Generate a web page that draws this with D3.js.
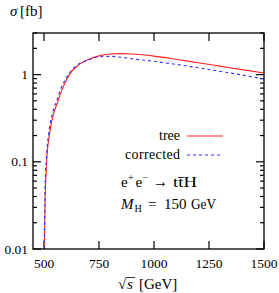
<!DOCTYPE html>
<meta charset="UTF-8">
<style>
body { margin: 0; background: #fff; }
text { font-family: "Liberation Serif", "DejaVu Serif", serif; fill: #000; }
.tick-label { font-size: 13.5px; }
</style>
<body>
<script src="https://d3js.org/d3.v7.min.js"></script>
<script>
// sqrt(s) in GeV
var treeEnergy = [502, 505, 510, 515, 520, 530, 540, 560, 580, 600, 625, 650, 700, 750, 800, 850, 900, 1000, 1100, 1200, 1300, 1400, 1500];
var treeSigma  = [0.01, 0.035, 0.08, 0.13, 0.17, 0.25, 0.33, 0.47, 0.65, 0.85, 1.08, 1.25, 1.48, 1.64, 1.72, 1.74, 1.72, 1.63, 1.5, 1.37, 1.25, 1.14, 1.045];
var corrEnergy = [501, 505, 510, 520, 530, 540, 560, 580, 600, 625, 650, 700, 750, 800, 850, 900, 1000, 1100, 1200, 1300, 1400, 1500];
var corrSigma  = [0.01, 0.05, 0.1, 0.2, 0.29, 0.37, 0.52, 0.72, 0.9, 1.12, 1.28, 1.47, 1.6, 1.62, 1.58, 1.52, 1.42, 1.31, 1.2, 1.09, 0.99, 0.89];
var xTicks = [500, 750, 1000, 1250, 1500];
var yTicks = [0.01, 0.1, 1];
var yLabels = ["0.01", "0.1", "1"];

var W = 279, H = 293;
var margin = {top: 33, right: 15, bottom: 44, left: 33};

var svg = d3.select("body").append("svg")
    .attr("width", W)
    .attr("height", H);

var x = d3.scaleLinear().domain([450, 1500]).range([margin.left, W - margin.right]);
var y = d3.scaleLog().domain([0.01, 3]).range([H - margin.bottom, margin.top]);

// minor ticks on the log axis
var minor = [];
[0.01, 0.1, 1].forEach(function(d) {
  for (var k = 2; k <= 9; k++) if (d * k <= 3) minor.push(d * k);
});

var axes = svg.append("g");
var x0 = x.range()[0], x1 = x.range()[1], y0 = y.range()[0], y1 = y.range()[1];

// x ticks bottom + top
xTicks.forEach(function(v) {
  axes.append("line").attr("x1", x(v)).attr("x2", x(v)).attr("y1", y0).attr("y2", y0 - 8)
      .attr("stroke", "#000").attr("stroke-width", 1.2);
  axes.append("line").attr("x1", x(v)).attr("x2", x(v)).attr("y1", y1).attr("y2", y1 + 8)
      .attr("stroke", "#000").attr("stroke-width", 1.2);
  axes.append("text").attr("class", "tick-label").attr("x", x(v)).attr("y", y0 + 19)
      .attr("text-anchor", "middle").text(v);
});

// y ticks left + right
yTicks.forEach(function(v, i) {
  [[x0, 1], [x1, -1]].forEach(function(s) {
    axes.append("line").attr("x1", s[0]).attr("x2", s[0] + s[1] * 8).attr("y1", y(v)).attr("y2", y(v))
        .attr("stroke", "#000").attr("stroke-width", 1.2);
  });
  axes.append("text").attr("class", "tick-label").attr("x", x0 - 5).attr("y", y(v) + 4.5)
      .attr("text-anchor", "end").text(yLabels[i]);
});
minor.forEach(function(v) {
  [[x0, 1], [x1, -1]].forEach(function(s) {
    axes.append("line").attr("x1", s[0]).attr("x2", s[0] + s[1] * 4).attr("y1", y(v)).attr("y2", y(v))
        .attr("stroke", "#000").attr("stroke-width", 1.2);
  });
});

var line = d3.line()
    .x(function(d) { return x(d[0]); })
    .y(function(d) { return y(d[1]); })
    .curve(d3.curveMonotoneX);

var plot = svg.append("g");
plot.append("defs").append("clipPath").attr("id", "clip")
  .append("rect").attr("x", x0).attr("y", y1).attr("width", x1 - x0).attr("height", y0 - y1);

plot.append("path")
    .datum(treeEnergy.map(function(e, i) { return [e, treeSigma[i]]; }))
    .attr("clip-path", "url(#clip)")
    .attr("fill", "none").attr("stroke", "#ff2020").attr("stroke-width", 1.1)
    .attr("d", line);
plot.append("path")
    .datum(corrEnergy.map(function(e, i) { return [e, corrSigma[i]]; }))
    .attr("clip-path", "url(#clip)")
    .attr("fill", "none").attr("stroke", "#3030ff").attr("stroke-width", 1.1)
    .attr("stroke-dasharray", "3,3")
    .attr("d", line);

// frame
svg.append("rect").attr("x", x0).attr("y", y1).attr("width", x1 - x0).attr("height", y0 - y1)
    .attr("fill", "none").attr("stroke", "#000").attr("stroke-width", 1.3);

// legend
var leg = svg.append("g").style("font-size", "14px");
leg.append("text").attr("x", 180).attr("y", 140).attr("text-anchor", "end").text("tree");
leg.append("line").attr("x1", 187).attr("x2", 223).attr("y1", 136).attr("y2", 136)
    .attr("stroke", "#ff2020").attr("stroke-width", 1.1);
leg.append("text").attr("x", 180).attr("y", 159).attr("text-anchor", "end")
    .attr("textLength", 55).text("corrected");
leg.append("line").attr("x1", 187).attr("x2", 223).attr("y1", 155).attr("y2", 155)
    .attr("stroke", "#3030ff").attr("stroke-width", 1.1).attr("stroke-dasharray", "3,3");

// small helper for placed text pieces
function put(g, xx, yy, size, str, italic, len) {
  var t = g.append("text").attr("x", xx).attr("y", yy).style("font-size", size + "px").text(str);
  if (italic) t.style("font-style", "italic");
  if (len) t.attr("textLength", len).attr("lengthAdjust", "spacingAndGlyphs");
  return t;
}

// process label
var lab = svg.append("g");
put(lab, 121, 187, 15, "e");
put(lab, 128, 181, 10, "+");
put(lab, 135.5, 187, 15, "e");
put(lab, 142.5, 181, 10, "\u2212");
put(lab, 153, 187, 17, "\u2192", false, 15);
put(lab, 173, 187, 15, "tt\u0304H", false, 24);

put(lab, 121, 209, 15, "M", true);
put(lab, 134.5, 212, 10, "H");
put(lab, 148, 209, 15, "=");
put(lab, 164, 209, 15, "150");
put(lab, 191, 209, 15, "GeV", false, 25);

// axis titles
put(svg, 10, 16, 15, "\u03c3", true);
put(svg, 20, 16, 15, "[fb]");

put(svg, 118, 289, 15, "\u221a");
put(svg, 127, 289, 15, "s", true);
svg.append("line").attr("x1", 126).attr("x2", 135).attr("y1", 277.5).attr("y2", 277.5)
    .attr("stroke", "#000").attr("stroke-width", 0.8);
put(svg, 139, 289, 15, "[GeV]");
</script>
</body>
